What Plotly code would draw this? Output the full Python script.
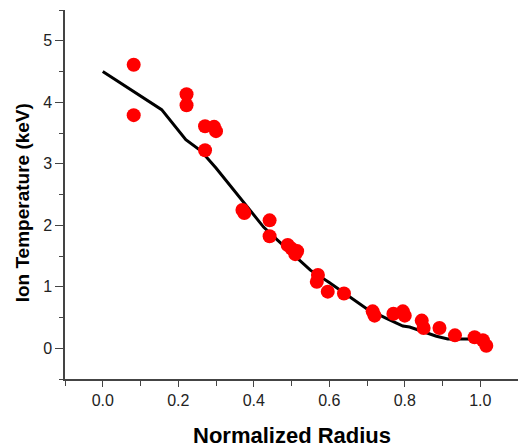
import plotly.graph_objects as go

# Model profile (black line)
line_r = [0.0, 0.156, 0.22, 0.26, 0.30, 0.352, 0.40, 0.426, 0.45, 0.50, 0.55, 0.60, 0.65, 0.70, 0.75, 0.795, 0.813, 0.85, 0.884, 0.914, 0.98]
line_t = [4.50, 3.88, 3.39, 3.21, 2.93, 2.54, 2.17, 1.97, 1.83, 1.55, 1.27, 1.07, 0.86, 0.64, 0.49, 0.36, 0.345, 0.27, 0.195, 0.15, 0.15]

# Measured data (red dots)
meas_r = [0.082, 0.082, 0.222, 0.222, 0.271, 0.295, 0.300, 0.271,
          0.370, 0.375, 0.442, 0.442, 0.490, 0.500, 0.515, 0.510,
          0.570, 0.567, 0.596, 0.639, 0.715, 0.720, 0.770, 0.795, 0.800,
          0.845, 0.850, 0.892, 0.933, 0.985, 1.007, 1.016]
meas_t = [4.61, 3.79, 4.13, 3.95, 3.61, 3.60, 3.53, 3.22,
          2.25, 2.20, 2.08, 1.82, 1.68, 1.62, 1.58, 1.53,
          1.19, 1.08, 0.92, 0.89, 0.60, 0.53, 0.56, 0.60, 0.53,
          0.45, 0.33, 0.33, 0.21, 0.18, 0.13, 0.04]

fig = go.Figure()
fig.add_trace(go.Scatter(x=line_r, y=line_t, mode="lines",
                         line=dict(color="black", width=3), showlegend=False))
fig.add_trace(go.Scatter(x=meas_r, y=meas_t, mode="markers",
                         marker=dict(color="#ff0000", size=14, line=dict(width=0)),
                         showlegend=False))

axis_font = dict(family="Liberation Sans, Arial, sans-serif", size=16, color="#222222")
fig.update_layout(
    width=518, height=448,
    margin=dict(l=65, r=0, t=10, b=69),
    paper_bgcolor="white", plot_bgcolor="white",
    xaxis=dict(range=[-0.1, 1.1], tick0=0, dtick=0.2, tickformat=".1f",
               showgrid=False, zeroline=False, showline=True, linecolor="#444444",
               linewidth=1.5, ticks="outside", ticklen=6, tickcolor="#444444",
               tickfont=axis_font,
               minor=dict(dtick=0.1, tick0=0, ticks="outside", ticklen=5, tickcolor="#444444")),
    yaxis=dict(range=[-0.5, 5.5], tick0=0, dtick=1,
               showgrid=False, zeroline=False, showline=True, linecolor="#444444",
               linewidth=1.5, ticks="outside", ticklen=8, tickcolor="#444444",
               tickfont=axis_font,
               minor=dict(dtick=0.5, tick0=0, ticks="outside", ticklen=4, tickcolor="#444444")),
    annotations=[
        dict(text="<b>Normalized Radius</b>", xref="paper", yref="paper",
             x=0.5, y=0, yshift=-56, xanchor="center", yanchor="middle",
             showarrow=False,
             font=dict(family="Liberation Sans, Arial, sans-serif", size=22, color="black")),
        dict(text="<b>Ion Temperature (keV)</b>", xref="paper", yref="paper",
             x=0, y=0.476, xshift=-43, xanchor="center", yanchor="middle",
             textangle=-90, showarrow=False,
             font=dict(family="Liberation Sans, Arial, sans-serif", size=19, color="black")),
    ],
)

fig.write_html("out.html")
